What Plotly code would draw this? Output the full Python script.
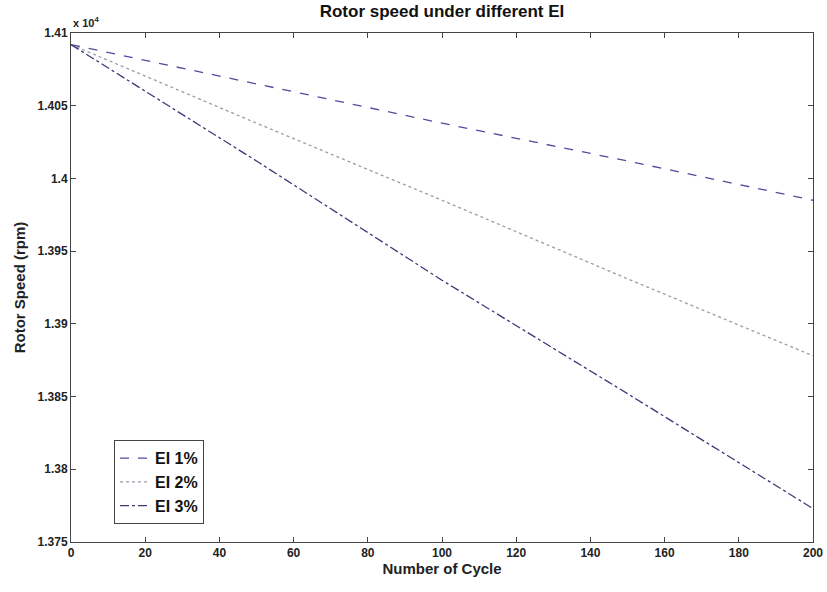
import plotly.graph_objects as go

cycles = [0, 50, 100, 150, 200]
ei1 = [14092, 14065, 14038, 14012, 13985]
ei2 = [14092, 14038, 13985, 13931, 13878]
ei3 = [14092, 14012, 13930, 13852, 13773]
names = ["<b>EI 1%</b>", "<b>EI 2%</b>", "<b>EI 3%</b>"]
colors = ["#4d4d9e", "#9a9aaa", "#3a3a78"]
dashes = ["dash", "dot", "dashdot"]
ytick_vals = [1.375, 1.38, 1.385, 1.39, 1.395, 1.4, 1.405, 1.41]
ytick_text = ["1.375", "1.38", "1.385", "1.39", "1.395", "1.4", "1.405", "1.41"]
xtick_vals = list(range(0, 201, 20))

FAM = "Liberation Sans, Arial"

fig = go.Figure()
for s, n, c, d in zip([ei1, ei2, ei3], names, colors, dashes):
    fig.add_trace(go.Scatter(x=cycles, y=[v / 1e4 for v in s], mode="lines", name=n,
                             line=dict(color=c, dash=d, width=1.3)))

fig.update_layout(
    width=827, height=592,
    margin=dict(l=71, r=14, t=33, b=50, autoexpand=False),
    paper_bgcolor="white", plot_bgcolor="white",
    title=dict(text="<b>Rotor speed under different EI</b>", x=442 / 827, xanchor="center",
               y=1 - 11 / 592, yanchor="middle", font=dict(family=FAM, size=17, color="#111")),
    font=dict(family=FAM, size=12, color="#222"),
    showlegend=True,
    legend=dict(x=0.058, y=0.2, xanchor="left", yanchor="top", bgcolor="white",
                bordercolor="#444", borderwidth=1,
                font=dict(family=FAM, size=16, color="#111"),
                tracegroupgap=0, itemwidth=30),
    xaxis=dict(range=[0, 200], tickvals=xtick_vals, ticktext=[f"<b>{v}</b>" for v in xtick_vals],
               ticks="inside", ticklen=5, mirror="ticks", automargin=False,
               showline=True, linecolor="#444", linewidth=1, showgrid=False, zeroline=False,
               tickfont=dict(family=FAM, size=12, color="#222"),
               title=dict(text="<b>Number of Cycle</b>", standoff=2,
                          font=dict(family=FAM, size=15, color="#222"))),
    yaxis=dict(range=[1.375, 1.41], tickvals=ytick_vals, ticktext=[f"<b>{t}</b>" for t in ytick_text],
               ticks="inside", ticklen=5, automargin=False,
               mirror="ticks", showline=True, linecolor="#444", linewidth=1, showgrid=False, zeroline=False,
               tickfont=dict(family=FAM, size=12, color="#222"),
               title=dict(text="<b>Rotor Speed (rpm)</b>", standoff=8,
                          font=dict(family=FAM, size=15, color="#222"))),
    annotations=[dict(text="<b>x 10<sup>4</sup></b>", x=0, y=1, xref="paper", yref="paper",
                      xanchor="left", yanchor="bottom", yshift=2, showarrow=False,
                      font=dict(family=FAM, size=11, color="#222"))],
)
fig.write_html("out.html")
